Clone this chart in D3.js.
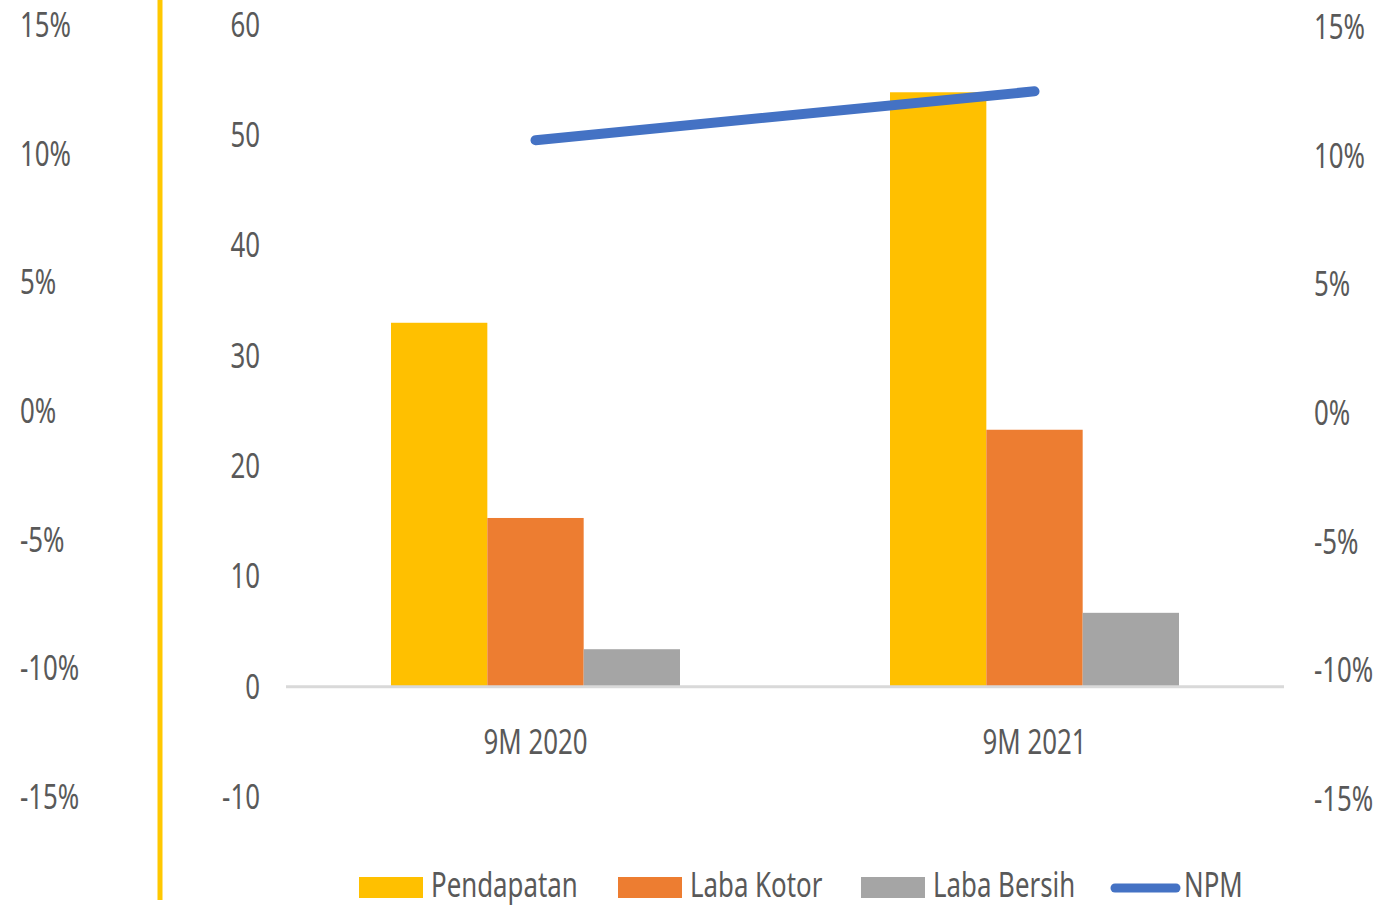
<!DOCTYPE html>
<html>
<head>
<meta charset="utf-8">
<script src="https://cdn.jsdelivr.net/npm/d3@7"></script>
<style>
  body { margin: 0; background: #fff; }
  text { font-family: 'Noto Sans', 'Open Sans', sans-serif; fill: #595959; font-size: 34px; }
</style>
</head>
<body>
<script>
// data
var categories = ['9M 2020', '9M 2021']
var seriesNames = ['Pendapatan', 'Laba Kotor', 'Laba Bersih']
var pendapatan = [33.0, 53.9]
var labaKotor = [15.3, 23.3]
var labaBersih = [3.4, 6.7]
var npm = [10.6, 12.5]
var valueTicks = [60, 50, 40, 30, 20, 10, 0, -10]
var pctTicks = [15, 10, 5, 0, -5, -10, -15]

var colors = ['#FFC000', '#ED7D31', '#A5A5A5']
var lineColor = '#4472C4'

var width = 1395
var height = 907
var squeeze = 0.76 // narrow the font to look like the condensed original

var svg = d3.select('body').append('svg')
  .attr('width', width)
  .attr('height', height)

// scales
var x = d3.scaleBand().domain(categories).range([286, 1284])
var x1 = d3.scaleBand().domain(seriesNames).range([0, 289])
var y = d3.scaleLinear().domain([-10, 60]).range([797, 25])
var yPctLeft = d3.scaleLinear().domain([-15, 15]).range([797, 25])
var yPctRight = d3.scaleLinear().domain([-15, 15]).range([799, 27])

// place a squeezed text label
function label (sel, px, py, anchor) {
  return sel.append('text')
    .attr('transform', 'translate(' + px + ',' + py + ') scale(' + squeeze + ',1)')
    .attr('dy', '0.35em')
    .attr('text-anchor', anchor || 'start')
}

// yellow divider line
svg.append('line')
  .attr('x1', 160).attr('x2', 160)
  .attr('y1', 0).attr('y2', 900)
  .attr('stroke', '#FFC800')
  .attr('stroke-width', 5)

// left percentage axis
var gl = svg.append('g')
pctTicks.forEach(function (d) {
  label(gl, 20, yPctLeft(d)).text(d + '%')
})

// value axis
var gv = svg.append('g')
valueTicks.forEach(function (d) {
  label(gv, 260, y(d), 'end').text(d)
})

// right percentage axis
var gr = svg.append('g')
pctTicks.forEach(function (d) {
  label(gr, 1314, yPctRight(d)).text(d + '%')
})

// bars
var rows = categories.map(function (c, i) {
  return { cat: c, values: [pendapatan[i], labaKotor[i], labaBersih[i]] }
})

var groups = svg.append('g').selectAll('g')
  .data(rows).enter().append('g')
  .attr('transform', function (d) { return 'translate(' + (x(d.cat) + (x.bandwidth() - 289) / 2) + ',0)' })

groups.selectAll('rect')
  .data(function (d) { return d.values.map(function (v, i) { return { name: seriesNames[i], v: v, i: i } }) })
  .enter().append('rect')
  .attr('x', function (d) { return x1(d.name) })
  .attr('width', x1.bandwidth())
  .attr('y', function (d) { return y(d.v) })
  .attr('height', function (d) { return y(0) - y(d.v) })
  .attr('fill', function (d) { return colors[d.i] })

// zero baseline
svg.append('line')
  .attr('x1', 286).attr('x2', 1284)
  .attr('y1', y(0)).attr('y2', y(0))
  .attr('stroke', '#D9D9D9')
  .attr('stroke-width', 3)

// category labels
var gc = svg.append('g')
categories.forEach(function (d) {
  label(gc, x(d) + x.bandwidth() / 2, 742, 'middle').text(d)
})

// NPM line
var valueline = d3.line()
  .x(function (d, i) { return x(categories[i]) + x.bandwidth() / 2 })
  .y(function (d) { return yPctRight(d) })

svg.append('path')
  .attr('d', valueline(npm))
  .attr('fill', 'none')
  .attr('stroke', lineColor)
  .attr('stroke-width', 10)
  .attr('stroke-linecap', 'round')

// legend
var legendX = [359, 618, 861]
var gleg = svg.append('g')
seriesNames.forEach(function (name, i) {
  gleg.append('rect')
    .attr('x', legendX[i]).attr('y', 877)
    .attr('width', 64).attr('height', 21)
    .attr('fill', colors[i])
  label(gleg, legendX[i] + 72, 885).text(name)
})
gleg.append('line')
  .attr('x1', 1115).attr('x2', 1176)
  .attr('y1', 888).attr('y2', 888)
  .attr('stroke', lineColor)
  .attr('stroke-width', 9)
  .attr('stroke-linecap', 'round')
label(gleg, 1184, 885).text('NPM')
</script>
</body>
</html>
